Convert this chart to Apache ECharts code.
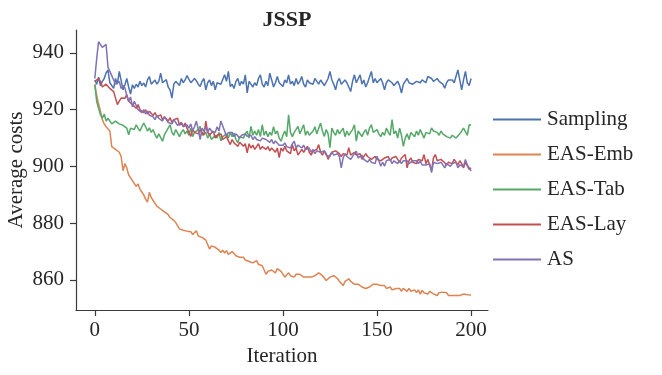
<!DOCTYPE html>
<html>
<head>
<meta charset="utf-8">
<title>JSSP</title>
<script src="https://cdn.jsdelivr.net/npm/echarts@6/dist/echarts.min.js"></script>
<style>
    html, body { margin: 0; padding: 0; background: #fff; }
    .chart { width: 662px; height: 375px; }
</style>
</head>
<body>
<div class="chart"></div>
<script>
// 数据 (iteration 0..200)
var seriesNames = ['Sampling', 'EAS-Emb', 'EAS-Tab', 'EAS-Lay', 'AS'];
var xTicks = [0, 50, 100, 150, 200];
var yTicks = [860, 880, 900, 920, 940];

var sampling = [
    930.5, 929.0, 931.5, 928.5, 930.0, 931.0, 933.0, 934.0, 929.5, 930.0,
    927.5, 931.0, 929.0, 933.5, 933.5, 927.0, 928.8, 931.0, 928.0, 925.5,
    928.8, 927.5, 929.0, 928.0, 930.0, 928.5, 929.4, 928.0, 930.5, 931.7,
    929.0, 928.8, 930.5, 929.0, 930.0, 932.9, 929.5, 930.0, 930.6, 928.0,
    927.0, 924.1, 929.0, 930.0, 930.0, 928.5, 931.0, 929.5, 930.5, 932.0,
    932.3, 929.5, 928.8, 931.0, 930.2, 929.0, 928.2, 930.0, 931.0, 927.0,
    929.5, 930.5, 928.5, 930.0, 927.0, 929.5, 930.0, 929.0, 928.5, 932.3,
    930.0, 933.5, 928.2, 929.0, 927.5, 930.0, 931.0, 928.5, 930.0, 929.0,
    932.3, 925.9, 930.0, 929.0, 928.0, 929.5, 928.5, 931.0, 932.3, 929.0,
    928.0, 930.0, 928.5, 932.9, 930.5, 928.0, 929.5, 931.7, 929.5, 930.0,
    928.2, 930.5, 929.5, 932.3, 929.0, 930.0, 928.5, 931.0, 929.0, 930.0,
    931.7, 929.0, 928.0, 930.5, 929.5, 930.0, 929.0, 931.0, 930.0, 929.0,
    930.5, 929.5, 928.5, 929.0, 931.0, 933.5, 930.5, 929.0, 927.0, 930.0,
    931.0, 929.0, 928.5, 930.5, 929.5, 928.0, 926.4, 930.0, 932.3, 929.5,
    930.0, 932.3, 929.0, 930.5, 928.0, 929.5, 930.0, 933.5, 929.5, 931.0,
    929.5, 930.0, 931.0, 929.5, 927.0, 929.5, 930.5, 931.0, 929.5, 928.5,
    929.0, 930.0, 928.5, 925.9, 929.0, 930.0, 931.0, 929.5, 930.0, 929.0,
    929.5, 930.0, 930.5, 929.5, 930.5, 930.0, 929.5, 931.7, 932.0, 931.0,
    930.0, 930.5, 931.0, 930.0, 929.5, 929.0, 927.6, 929.5, 930.5, 931.0,
    930.5, 929.5, 930.0, 934.0, 930.5, 927.0, 930.5, 933.5, 929.5, 928.5,
    931.0
];

var easEmb = [
    929.0, 925.0, 922.0, 919.5, 916.5, 915.0, 914.0, 913.5, 912.5, 907.0,
    906.5, 906.0, 905.5, 905.0, 903.5, 898.5, 901.0, 899.5, 897.0, 896.5,
    895.0, 894.5, 893.0, 893.8, 892.0, 891.0, 890.0, 888.5, 887.4, 890.9,
    889.0, 888.0, 887.5, 886.0, 886.5, 885.0, 885.5, 884.0, 884.3, 883.0,
    882.0, 882.5, 881.0, 880.2, 879.5, 878.0, 878.5, 877.5, 878.0, 877.2,
    876.5, 877.0, 876.0, 876.5, 877.3, 875.5, 875.5, 875.0, 874.5, 874.0,
    873.8, 870.9, 872.0, 872.6, 871.5, 871.0, 870.5, 869.7, 870.5, 869.5,
    870.3, 869.0, 869.5, 870.0, 870.3, 868.5, 868.0, 868.0, 867.5, 868.0,
    867.0, 867.5, 866.5, 867.0, 866.0, 866.5, 866.8, 865.5, 866.0, 865.0,
    865.6, 862.0, 863.0, 862.5, 863.5, 863.0, 862.5, 864.0, 864.5, 863.0,
    862.5, 861.0, 861.5, 862.5, 861.5, 862.0, 861.0, 862.0, 861.5, 862.0,
    861.5, 861.0, 861.5, 861.0, 861.5, 861.0, 861.0, 861.5, 862.0, 862.5,
    862.7, 861.5, 861.0, 859.8, 860.5, 861.0, 860.5, 861.5, 861.0, 860.5,
    859.5, 859.0, 858.0, 859.5, 860.0, 860.4, 859.5, 859.0, 858.5, 858.6,
    858.5, 858.0, 857.5, 858.0, 857.0, 856.8, 857.5, 858.0, 858.5, 858.0,
    858.5, 859.2, 858.0, 857.5, 858.0, 857.0, 857.5, 857.5, 856.5, 857.0,
    857.0, 857.5, 857.0, 856.0, 857.0, 856.5, 856.0, 857.0, 856.0, 855.7,
    856.5, 855.5, 856.5, 855.0, 856.3, 855.5, 856.0, 855.0, 856.0, 855.5,
    855.1, 855.5, 854.5, 855.5, 855.0, 855.7, 855.0, 855.5, 854.5, 855.0,
    854.5, 855.0, 854.5, 855.0, 854.5, 855.0, 855.0, 854.5, 854.8, 854.5,
    854.7
];

var easTab = [
    928.8, 922.9, 923.5, 918.2, 917.0, 918.5, 916.0, 917.0, 916.5, 915.0,
    915.3, 916.0, 916.0, 915.0, 915.5, 914.5, 914.7, 913.5, 911.2, 913.5,
    914.0, 913.0, 914.7, 913.5, 912.5, 914.0, 915.3, 914.0, 912.5, 913.6,
    912.0, 913.0, 911.2, 910.0, 911.5, 912.0, 908.9, 911.2, 911.5, 913.5,
    914.7, 912.0, 911.0, 913.0, 912.5, 910.5, 912.0, 913.0, 911.5, 912.5,
    911.0, 913.5, 910.5, 912.0, 911.5, 913.0, 914.1, 911.0, 910.5, 912.0,
    910.0, 911.5, 909.5, 909.5, 911.0, 910.0, 912.0, 909.0, 910.5, 910.6,
    911.5, 910.0, 912.0, 910.5, 911.8, 909.5, 908.3, 910.5, 911.0, 910.0,
    911.5, 912.4, 910.0, 914.1, 911.0, 912.5, 911.0, 913.0, 910.5, 914.7,
    911.0, 912.5, 910.5, 912.0, 911.0, 914.0, 911.5, 912.5, 910.0, 908.9,
    911.0, 912.5, 910.5, 918.2, 912.0, 910.5, 912.0, 911.5, 914.1, 911.5,
    912.0, 914.7, 911.0, 912.5, 911.0, 910.6, 912.5, 914.0, 911.5, 912.0,
    915.3, 912.5, 910.6, 913.0, 911.5, 906.6, 913.5, 912.0, 911.0, 913.0,
    911.5, 912.0, 913.5, 910.5, 912.5, 911.0, 912.0, 913.0, 914.7, 908.9,
    912.5, 913.0, 910.5, 912.0, 913.0, 911.0, 913.5, 914.7, 912.0, 911.5,
    913.0, 911.5, 910.5, 912.0, 911.0, 913.5, 912.0, 911.0, 916.5, 911.5,
    912.5, 910.0, 913.5, 911.0, 907.1, 910.0, 911.5, 909.5, 912.0, 911.5,
    910.5, 912.5, 911.0, 913.0, 911.5, 910.0, 912.0, 912.5, 911.5, 913.6,
    912.5, 913.0, 912.0, 911.0, 912.5, 911.5, 911.0, 910.5, 911.0, 910.0,
    911.0, 910.5, 910.0, 909.5, 911.5, 912.0, 913.5, 914.0, 911.0, 914.7,
    914.5
];

var easLay = [
    930.0, 930.5, 931.0, 930.0, 928.0, 927.6, 929.0, 928.8, 927.5, 928.0,
    926.4, 927.0, 921.8, 923.0, 924.1, 923.5, 924.0, 925.3, 923.0, 922.5,
    921.8, 922.5, 920.5, 921.8, 920.0, 920.5, 919.0, 920.0, 918.5, 919.5,
    919.4, 918.0, 919.0, 917.5, 918.0, 918.2, 916.5, 917.5, 917.0, 916.0,
    917.2, 915.5, 916.5, 916.0, 917.0, 914.5, 915.5, 914.0, 915.3, 913.5,
    913.5, 910.6, 913.0, 912.0, 912.5, 911.5, 913.0, 912.5, 911.0, 916.0,
    912.0, 911.2, 911.5, 912.4, 910.0, 911.0, 910.5, 911.5, 909.5, 910.0,
    910.5, 909.0, 907.7, 909.5, 908.3, 909.0, 907.1, 908.5, 908.0, 907.1,
    908.0, 904.8, 908.0, 906.5, 907.5, 906.0, 907.0, 908.0, 906.0, 907.0,
    906.5, 906.0, 907.0, 905.5, 906.5, 906.0, 905.0, 906.5, 903.1, 906.5,
    905.4, 907.1, 905.5, 906.0, 904.5, 907.7, 905.5, 906.5, 904.0, 903.6,
    906.0, 905.0, 904.5, 907.1, 905.0, 904.0, 905.5, 905.0, 906.0, 907.7,
    905.0, 904.0, 905.5, 904.5, 902.5, 904.0, 905.0, 904.5, 905.5, 905.0,
    904.5, 903.5, 904.5, 905.0, 904.0, 906.6, 904.0, 904.5, 905.0, 904.0,
    903.5, 904.5, 902.5, 903.0, 904.5, 903.5, 903.0, 902.5, 901.9, 903.5,
    902.5, 903.0, 902.0, 901.3, 903.0, 902.5, 903.5, 902.0, 903.0, 902.5,
    903.5, 902.5, 901.5, 903.0, 902.5, 904.2, 899.5, 902.0, 903.0, 901.5,
    902.0, 901.0, 902.5, 903.0, 902.0, 904.2, 901.0, 902.5, 900.5, 898.5,
    903.0, 904.2, 902.0, 901.5, 902.5, 902.0, 901.3, 900.5, 901.5, 902.0,
    901.0, 902.5, 901.5, 900.5, 902.0, 901.0, 899.5, 901.5, 901.9, 899.0,
    899.5
];

var as = [
    931.0, 938.0, 944.0, 943.0, 942.0, 941.5, 943.0, 935.0, 933.5, 932.0,
    930.5, 929.0, 928.8, 930.0, 927.5, 928.5, 927.7, 925.0, 922.9, 924.5,
    921.0, 923.0, 921.5, 920.0, 919.5, 919.0, 920.0, 918.5, 919.5, 918.0,
    918.2, 917.5, 916.5, 918.0, 917.0, 917.2, 916.0, 917.5, 916.5, 915.5,
    916.0, 915.0, 916.5, 915.5, 914.5, 914.0, 915.5, 914.0, 913.5, 914.7,
    913.5, 915.0, 912.5, 914.0, 916.0, 913.0, 909.5, 913.5, 912.5, 914.0,
    912.0, 913.5, 912.5, 913.0, 912.0, 914.0, 912.5, 916.0, 915.3, 912.5,
    910.6, 912.0, 911.5, 912.0, 910.5, 911.5, 911.0, 910.0, 911.0, 910.5,
    911.5, 910.6, 910.0, 911.0, 909.5, 910.5, 909.5, 910.0, 909.0, 910.0,
    909.5, 909.5, 909.0, 908.5, 909.5, 908.0, 909.0, 908.5, 907.5, 908.0,
    907.5, 908.3, 907.0, 907.5, 906.5, 908.0, 908.9, 906.5, 907.5, 907.0,
    906.5, 907.5, 906.0, 905.5, 906.5, 905.0, 906.0, 904.5, 905.5, 905.0,
    905.0, 904.5, 905.5, 904.0, 904.5, 903.5, 905.0, 904.0, 903.5, 904.5,
    903.5, 899.5, 903.0, 904.5, 903.5, 904.0, 902.5, 903.0, 904.5, 905.4,
    903.0, 902.5, 904.0, 902.5, 903.0, 901.5, 902.5, 901.5, 902.0, 901.0,
    903.6, 902.0, 900.1, 901.5, 900.1, 902.0, 901.5, 902.5, 901.0, 902.0,
    901.5, 901.0, 902.0, 901.0, 902.0, 901.5, 902.0, 901.0, 901.5, 902.0,
    901.5, 902.0, 901.0, 901.9, 900.5, 901.0, 900.5, 900.1, 901.0, 897.8,
    901.5, 902.0, 901.0, 900.5, 901.5, 901.0, 899.5, 901.0, 900.5, 900.0,
    901.0, 900.5, 901.5, 899.5, 900.5, 901.0, 900.0, 902.5, 900.5, 899.5,
    898.4
];

(function () {
    var myChart = echarts.init(document.querySelector(".chart"));
    var font = "'Liberation Serif', 'DejaVu Serif', serif";
    var ink = "#262626";
    var spine = "#3a3a3a";

    // [iteration, value] pairs
    function pairs(arr) {
        return arr.map(function (v, i) { return [i, v]; });
    }
    var allData = [sampling, easEmb, easTab, easLay, as];

    var option = {
        animation: false,
        title: {
            text: 'JSSP',
            left: 282,
            top: 4,
            textAlign: 'center',
            textStyle: {
                fontFamily: font,
                fontSize: 22,
                fontWeight: 'bold',
                color: ink
            }
        },
        // seaborn deep 配色
        color: ["#4c72b0", "#dd8452", "#55a868", "#c44e52", "#8172b3"],
        legend: {
            orient: 'vertical',
            left: 488,
            top: 104,
            itemWidth: 48,
            itemHeight: 2,
            itemGap: 14,
            icon: 'rect',
            data: seriesNames,
            textStyle: {
                fontFamily: font,
                fontSize: 21,
                lineHeight: 20,
                color: ink,
                padding: [0, 0, 0, 1]
            }
        },
        grid: {
            left: 76,
            right: 174,
            top: 30,
            bottom: 65,
            outerBoundsMode: 'none'
        },
        xAxis: {
            type: 'value',
            min: -10,
            max: 209,
            name: 'Iteration',
            nameLocation: 'middle',
            nameGap: 36,
            nameMoveOverlap: false,
            nameTextStyle: { fontFamily: font, fontSize: 21, color: ink },
            axisLine: { onZero: false, lineStyle: { color: spine, width: 1.2 } },
            axisTick: {
                length: 6,
                customValues: xTicks,
                lineStyle: { color: spine, width: 1.2 }
            },
            axisLabel: {
                customValues: xTicks,
                margin: 10,
                fontFamily: font,
                fontSize: 21,
                color: ink
            },
            splitLine: { show: false }
        },
        yAxis: {
            type: 'value',
            min: 849.4,
            max: 948.1,
            name: 'Average costs',
            nameLocation: 'middle',
            nameGap: 49,
            nameMoveOverlap: false,
            nameTextStyle: { fontFamily: font, fontSize: 21, color: ink },
            axisLine: { show: true, onZero: false, lineStyle: { color: spine, width: 1.2 } },
            axisTick: {
                show: true,
                length: 6,
                customValues: yTicks,
                lineStyle: { color: spine, width: 1.2 }
            },
            axisLabel: {
                customValues: yTicks,
                margin: 12,
                fontFamily: font,
                fontSize: 21,
                color: ink
            },
            splitLine: { show: false }
        },
        series: seriesNames.map(function (name, k) {
            return {
                name: name,
                type: 'line',
                data: pairs(allData[k]),
                showSymbol: false,
                lineStyle: { width: 1.5 }
            };
        })
    };
    myChart.setOption(option);
})();
</script>
</body>
</html>
